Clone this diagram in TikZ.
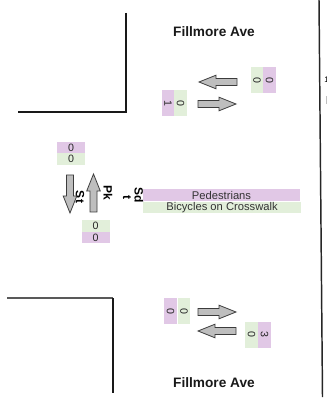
\documentclass[tikz,border=0pt]{standalone}
\usepackage{fontspec}
\setmainfont{Liberation Sans}
\definecolor{purp}{RGB}{225,200,230}
\definecolor{grn}{RGB}{226,239,218}
\definecolor{arrfill}{RGB}{190,190,190}
\definecolor{arrline}{RGB}{60,60,60}
\begin{document}
\begin{tikzpicture}[x=0.75pt,y=-0.75pt,
  blockarr/.style={draw=arrline,fill=arrfill,line width=0.6pt,line join=miter},
  barrow/.pic={\draw[blockarr] (0,-3.5) -- (21,-3.5) -- (21,-6.8) -- (38,0) -- (21,6.8) -- (21,3.5) -- (0,3.5) -- cycle;},
  vbox/.style={inner sep=0pt,minimum width=9.6pt,minimum height=19.5pt,font=\fontsize{8}{9}\selectfont,text=black!85},
  hbox/.style={inner sep=0pt,minimum width=21pt,minimum height=8.6pt,font=\fontsize{8}{9}\selectfont,text=black!85},
  street/.style={font=\bfseries\fontsize{10.25}{12}\selectfont,text=black!90},
  rlab/.style={font=\bfseries\fontsize{9}{10}\selectfont,rotate=-90,inner sep=0pt},
  legend/.style={inner sep=0pt,font=\fontsize{8.4}{10}\selectfont,text=black!80},
  corner/.style={line width=1.1pt,black!90}
]
\useasboundingbox (0,0) rectangle (327,402);
\fill[white] (0,0) rectangle (327,402);

% corners and right edge
\draw[corner] (126,13) -- (126,112) -- (18,112);
\draw[line width=1.5pt,black!65] (7,298) -- (113,298);
\draw[corner] (113,298) -- (113,393);
\draw[line width=1.1pt,black!85] (319,0) -- (322.5,397);
\node[inner sep=0pt,font=\fontsize{6}{7}\selectfont] (edge1) at (326.5,80) {1};
\fill[black!25] (325.5,96) rectangle (327,104);

% street names
\node[street] (fillN) at (214,32) {Fillmore Ave};
\node[street] (fillS) at (214,383) {Fillmore Ave};

% rotated fragments
\node[rlab] (st) at (80,197) {St};
\node[rlab] (pk) at (108,193) {Pk};
\node[rlab] (tt) at (127,197) {t};
\node[rlab] (sd) at (139,195) {Sd};
\node[rlab] (tx) at (156,193) {T};

% arrows
\pic[rotate=180] at (237,82) {barrow};
\pic at (198,104) {barrow};
\pic at (198,312) {barrow};
\pic[rotate=180] at (236,331) {barrow};
\pic[rotate=-90] at (70,175) {barrow};
\pic[rotate=90] at (93.5,212) {barrow};

% top count boxes
\node[vbox,fill=grn] (tr1) at (257,80) {\rotatebox{-90}{0}};
\node[vbox,fill=purp] (tr2) at (269.5,80) {\rotatebox{-90}{0}};
\node[vbox,fill=purp] (tl1) at (168,103) {\rotatebox{-90}{1}};
\node[vbox,fill=grn] (tl2) at (180.5,103) {\rotatebox{-90}{0}};
% bottom count boxes
\node[vbox,fill=purp] (bl1) at (170.5,311) {\rotatebox{-90}{0}};
\node[vbox,fill=grn] (bl2) at (184,311) {\rotatebox{-90}{0}};
\node[vbox,fill=grn] (br1) at (251.5,334.5) {\rotatebox{-90}{0}};
\node[vbox,fill=purp] (br2) at (264.5,334.5) {\rotatebox{-90}{3}};
% left count boxes
\node[hbox,fill=purp] (lt1) at (71,147.5) {0};
\node[hbox,fill=grn] (lt2) at (71,159) {0};
\node[hbox,fill=grn] (lb1) at (95.5,226) {0};
\node[hbox,fill=purp] (lb2) at (95.5,237.5) {0};

% legend
\node[legend,fill=purp,minimum width=117.8pt,minimum height=9pt] (ped) at (221.5,195) {Pedestrians};
\node[legend,fill=grn,minimum width=118.5pt,minimum height=8.6pt] (bic) at (222,207.5) {Bicycles on Crosswalk};
\end{tikzpicture}
\end{document}
